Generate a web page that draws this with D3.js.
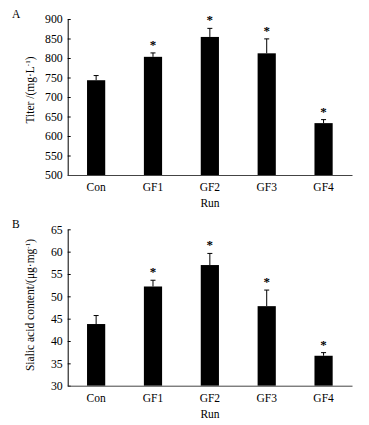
<!DOCTYPE html>
<html>
<head>
<meta charset="utf-8">
<script src="https://cdn.jsdelivr.net/npm/d3@7"></script>
<style>
  body { margin: 0; background: #fff; }
  text { font-family: "Liberation Serif", "Times New Roman", serif; fill: #000; }
</style>
</head>
<body>
<div id="chart"></div>
<script>
const runs = ["Con", "GF1", "GF2", "GF3", "GF4"];
const titerMean = [743, 803, 854, 812, 633];
const titerErr = [12, 10, 22, 37, 9];
const titerStar = [false, true, true, true, true];
const sialicMean = [43.8, 52.2, 57.0, 47.8, 36.7];
const sialicErr = [1.9, 1.4, 2.6, 3.6, 0.7];
const sialicStar = [false, true, true, true, true];

const W = 369, H = 425;
const svg = d3.select("#chart").append("svg")
  .attr("width", W).attr("height", H);

function drawPanel(opt) {
  const x = d3.scaleBand().domain(runs).range([67.7, 352]).paddingInner(0.68).paddingOuter(0.34);
  const y = d3.scaleLinear().domain(opt.domain).range([opt.bottom, opt.top]);
  const g = svg.append("g");

  // y axis, ticks pointing inward
  const ya = g.append("g")
    .attr("transform", "translate(67.7,0)")
    .call(d3.axisLeft(y).tickValues(opt.ticks).tickSize(-3).tickSizeOuter(0).tickPadding(5));
  ya.selectAll("text").style("font-size", "11.8px");

  // bars
  g.selectAll(".bar")
    .data(runs)
    .enter()
    .append("rect")
    .attr("x", d => x(d))
    .attr("width", x.bandwidth())
    .attr("y", (d, i) => y(opt.mean[i]))
    .attr("height", (d, i) => y(opt.domain[0]) - y(opt.mean[i]))
    .attr("fill", "#000");

  // error bars (upper only)
  runs.forEach((d, i) => {
    const cx = x(d) + x.bandwidth() / 2;
    const yt = y(opt.mean[i] + opt.err[i]);
    g.append("line")
      .attr("x1", cx).attr("x2", cx)
      .attr("y1", y(opt.mean[i])).attr("y2", yt)
      .attr("stroke", "#000").attr("stroke-width", 1);
    g.append("line")
      .attr("x1", cx - 2.5).attr("x2", cx + 2.5)
      .attr("y1", yt).attr("y2", yt)
      .attr("stroke", "#000").attr("stroke-width", 1);
    if (opt.star[i]) {
      g.append("text")
        .attr("x", cx).attr("y", yt - 4)
        .attr("text-anchor", "middle")
        .style("font-size", "13px")
        .style("font-weight", "bold")
        .text("*");
    }
  });

  // x axis
  const xa = g.append("g")
    .attr("transform", "translate(0," + opt.bottom + ")")
    .call(d3.axisBottom(x).tickSize(0).tickSizeOuter(0).tickPadding(8));
  xa.selectAll("text").style("font-size", "11.5px");
  xa.select(".domain").attr("stroke", "#444");

  g.append("text")
    .attr("x", 210).attr("y", opt.bottom + 32)
    .attr("text-anchor", "middle")
    .style("font-size", "11.5px")
    .text("Run");

  g.append("text")
    .attr("x", 12).attr("y", opt.top - 1)
    .style("font-size", "11.5px")
    .text(opt.letter);

  const lab = g.append("text")
    .attr("text-anchor", "middle")
    .attr("transform", "translate(" + 34 + "," + opt.labelY + ")rotate(-90)")
    .style("font-size", "11.5px");
  opt.label(lab);
}

drawPanel({
  domain: [500, 900], ticks: d3.range(500, 901, 50),
  top: 19, bottom: 175, mean: titerMean, err: titerErr, star: titerStar,
  letter: "A", labelY: 90,
  label: t => {
    t.append("tspan").text("Titer /(mg\u00b7L");
    t.append("tspan").attr("dy", -4).style("font-size", "7px").text("-1");
    t.append("tspan").attr("dy", 4).text(")");
  }
});

drawPanel({
  domain: [30, 65], ticks: d3.range(30, 66, 5),
  top: 229.3, bottom: 385.7, mean: sialicMean, err: sialicErr, star: sialicStar,
  letter: "B", labelY: 305,
  label: t => {
    t.append("tspan").text("Sialic acid content/(\u03bcg\u00b7mg");
    t.append("tspan").attr("dy", -4).style("font-size", "7px").text("-1");
    t.append("tspan").attr("dy", 4).text(")");
  }
});
</script>
</body>
</html>
